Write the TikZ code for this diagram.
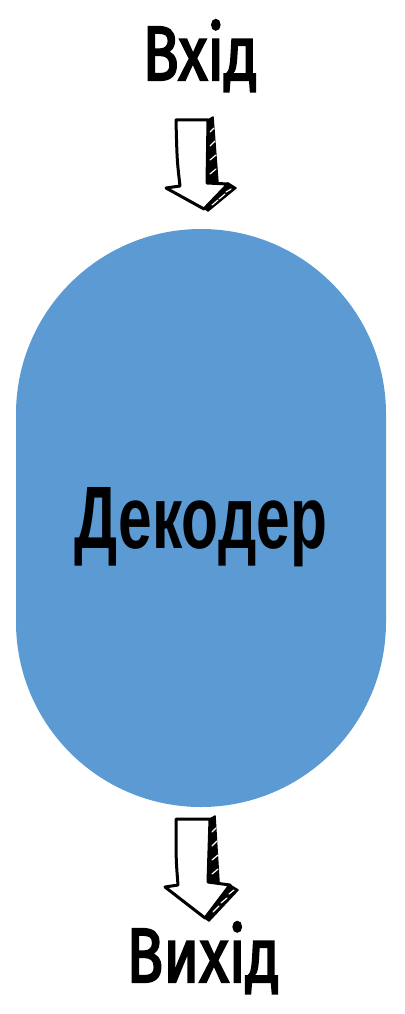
\documentclass[tikz,border=0pt]{standalone}
\usepackage{fontspec}
\setmainfont{Liberation Sans}
\newfontfamily\lblfont[FakeBold=3]{Fira Sans}
\definecolor{boxblue}{RGB}{91,154,211}
\tikzset{
  outl/.style={draw=black, line width=3pt, line join=round, line cap=round, fill=white},
  sideface/.style={fill=black, draw=black, line width=1.5pt, line join=round},
  hatch/.style={draw=white, line width=1.2pt, line cap=round},
}
\begin{document}
\begin{tikzpicture}[x=1pt,y=-1pt]
\useasboundingbox (0,0) rectangle (404,1014);
% decoder box
\node[fill=boxblue, minimum width=370pt, minimum height=578pt, rounded corners=185pt, inner sep=0pt] (dec) at (201,518) {};
\node[anchor=base, inner sep=0pt] (dect) at (201,548) {\resizebox{252pt}{61pt}{\bfseries Декодер}};
% labels
\node[anchor=base, inner sep=0pt] (in) at (200,80) {\resizebox{115pt}{60pt}{\lblfont Вхід}};
\node[anchor=base, inner sep=0pt] (out) at (203,982) {\resizebox{153pt}{60pt}{\lblfont Вихід}};
% arrow 1 (input -> decoder)
\fill[sideface] (208,120) -- (213,117) -- (218,183) -- (207,183) -- cycle;
\draw[hatch] (210,132) -- (214,128);
\draw[hatch] (210,146) -- (215,141);
\draw[hatch] (210,160) -- (216,155);
\draw[hatch] (210,174) -- (216,169);
\fill[sideface] (228,183) -- (236,188) -- (208,211) -- (204,208) -- cycle;
\draw[hatch] (226,192) -- (231,189);
\draw[hatch] (219,199) -- (225,194);
\draw[hatch] (212,205) -- (218,200);
\draw[outl] (176,120) -- (208,120) -- (207,183) -- (228,184) -- (204,209) -- (166,188) -- (180,186) .. controls (177,160) .. (176,120) -- cycle;
% arrow 2 (decoder -> output)
\fill[sideface] (210,819) -- (215,816) -- (219,882) -- (208,882) -- cycle;
\draw[hatch] (212,832) -- (216,828);
\draw[hatch] (212,846) -- (217,841);
\draw[hatch] (212,860) -- (218,855);
\draw[hatch] (212,874) -- (218,869);
\fill[sideface] (230,885) -- (238,890) -- (209,921) -- (205,918) -- cycle;
\draw[hatch] (229,894) -- (234,890);
\draw[hatch] (221,903) -- (227,898);
\draw[hatch] (213,912) -- (219,906);
\draw[outl] (176,819) -- (210,819) -- (208,882) -- (230,885) -- (205,918) -- (165,887) -- (178,885) .. controls (176,860) .. (176,819) -- cycle;
\end{tikzpicture}
\end{document}
